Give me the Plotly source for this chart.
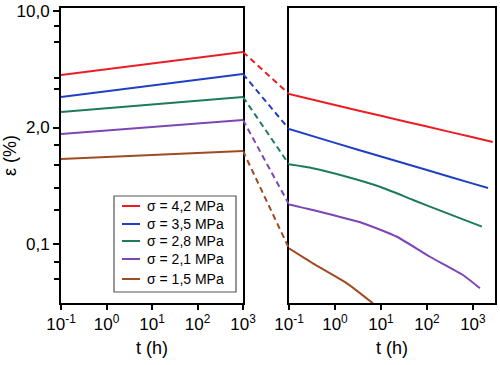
import plotly.graph_objects as go

# ---------------- data ----------------
labels = ["σ = 4,2 MPa", "σ = 3,5 MPa", "σ = 2,8 MPa", "σ = 2,1 MPa", "σ = 1,5 MPa"]
colors = ["#ec1c24", "#1f3fc4", "#1e7a5c", "#7d45b5", "#a04a22"]

# left panel (loading phase), t in h
t_left = [0.1, 1000]
eps_left = [
    [2.82, 4.45],
    [1.83, 2.88],
    [1.36, 1.83],
    [0.879, 1.16],
    [0.537, 0.629],
]

# right panel (recovery phase)
t_right = [
    [0.1, 1, 10, 100, 1000, 2700],
    [0.1, 1, 10, 100, 1000, 2130],
    [0.1, 0.33, 1.8, 9.5, 50, 270, 1570],
    [0.1, 0.33, 4.06, 22.3, 116, 607, 1420],
    [0.1, 0.33, 1.82, 6.7],
]
eps_right = [
    [1.94, 1.56, 1.26, 1.02, 0.824, 0.751],
    [0.97, 0.738, 0.565, 0.432, 0.330, 0.303],
    [0.483, 0.447, 0.378, 0.310, 0.239, 0.184, 0.141],
    [0.219, 0.196, 0.151, 0.1155, 0.0778, 0.0542, 0.0417],
    [0.0918, 0.0683, 0.0460, 0.0310],
]

x_tick_vals = [0.1, 1, 10, 100, 1000]
x_tick_text = ["10<sup>-1</sup>", "10<sup>0</sup>", "10<sup>1</sup>", "10<sup>2</sup>", "10<sup>3</sup>"]
y_tick_vals = [10, 1, 0.1]
y_tick_text = ["10,0", "2,0", "0,1"]
y_minor_vals = [7.4, 5.4, 2.66, 2.14, 0.71, 0.48, 0.30, 0.196, 0.070, 0.050]

# ---------------- figure ----------------
fig = go.Figure()
for i in range(len(labels)):
    fig.add_trace(go.Scatter(x=t_left, y=eps_left[i], mode="lines", name=labels[i],
                             line=dict(color=colors[i], width=2), xaxis="x", yaxis="y",
                             showlegend=False))
for i in range(len(labels)):
    fig.add_trace(go.Scatter(x=t_right[i], y=eps_right[i], mode="lines", name=labels[i],
                             line=dict(color=colors[i], width=2, shape="spline", smoothing=0.5),
                             xaxis="x2", yaxis="y2", showlegend=False))
# dashed connectors between the panels
for i in range(len(labels)):
    fig.add_trace(go.Scatter(x=[0, 1], y=[eps_left[i][-1], eps_right[i][0]], mode="lines",
                             name=labels[i],
                             line=dict(color=colors[i], width=2, dash="6px,4px"),
                             xaxis="x3", yaxis="y", showlegend=False))

W, H = 500, 365
ml, mr, mt, mb = 61, 5, 8, 62
pw = W - ml - mr
ph = H - mt - mb
d1 = (243 - ml) / pw
d2 = (289 - ml) / pw

def px(x):
    return (x - ml) / pw

def py(y):
    return (H - mb - y) / ph

font = "Liberation Sans, Arial, sans-serif"
axis_common = dict(type="log", showline=True, linecolor="black", linewidth=2, mirror=True,
                   showgrid=False, zeroline=False, ticks="outside", ticklen=5, tickwidth=1.5,
                   tickcolor="black", tickfont=dict(size=17, color="black"), automargin=False,
                   tickmode="array", tickvals=x_tick_vals, ticktext=x_tick_text,
                   title=dict(text="t (h)", font=dict(size=18, color="black"), standoff=8))
yr = [-1.506, 1.026]

fig.update_layout(
    width=W, height=H, margin=dict(l=ml, r=mr, t=mt, b=mb),
    paper_bgcolor="white", plot_bgcolor="white",
    font=dict(family=font, color="black"),
    xaxis=dict(domain=[0, d1], range=[-1, 3], anchor="y", **axis_common),
    xaxis2=dict(domain=[d2, 1], range=[-1, 3.48], anchor="y2", **axis_common),
    xaxis3=dict(domain=[d1, d2], range=[0, 1], anchor="y", visible=False, fixedrange=True),
    yaxis=dict(type="log", range=yr, domain=[0, 1], anchor="x", automargin=False,
               showline=True, linecolor="black", linewidth=2, mirror=True,
               showgrid=False, zeroline=False, ticks="outside", ticklen=6, tickwidth=1.5,
               tickcolor="black", tickmode="array", tickvals=y_tick_vals, ticktext=y_tick_text,
               tickfont=dict(size=17, color="black"),
               minor=dict(tickmode="array", tickvals=y_minor_vals, ticks="outside",
                          ticklen=5, tickwidth=1.5, tickcolor="black", showgrid=False),
               title=dict(text="ε (%)", font=dict(size=18, color="black"), standoff=4)),
    yaxis2=dict(type="log", range=yr, domain=[0, 1], anchor="x2", automargin=False,
                showline=True, linecolor="black", linewidth=2, mirror=True,
                showgrid=False, zeroline=False, ticks="", showticklabels=False),
    showlegend=False,
)

# legend box drawn in paper coordinates
leg_left, leg_right, leg_top, leg_bottom = 114, 236, 196, 292
item_y = [206, 224, 241, 259, 279]
fig.add_shape(type="rect", xref="paper", yref="paper",
              x0=px(leg_left), x1=px(leg_right), y0=py(leg_bottom), y1=py(leg_top),
              line=dict(color="#555555", width=1.2), fillcolor="white", layer="above")
for i in range(len(labels)):
    fig.add_shape(type="line", xref="paper", yref="paper",
                  x0=px(122), x1=px(140), y0=py(item_y[i]), y1=py(item_y[i]),
                  line=dict(color=colors[i], width=2), layer="above")
    fig.add_annotation(text=labels[i], xref="paper", yref="paper",
                       x=px(145), y=py(item_y[i]), xanchor="left", yanchor="middle",
                       showarrow=False, font=dict(size=14, color="black"))

fig.write_html("out.html", config={"displayModeBar": False},
               post_script="document.body.style.margin='0';document.body.style.padding='0';")
